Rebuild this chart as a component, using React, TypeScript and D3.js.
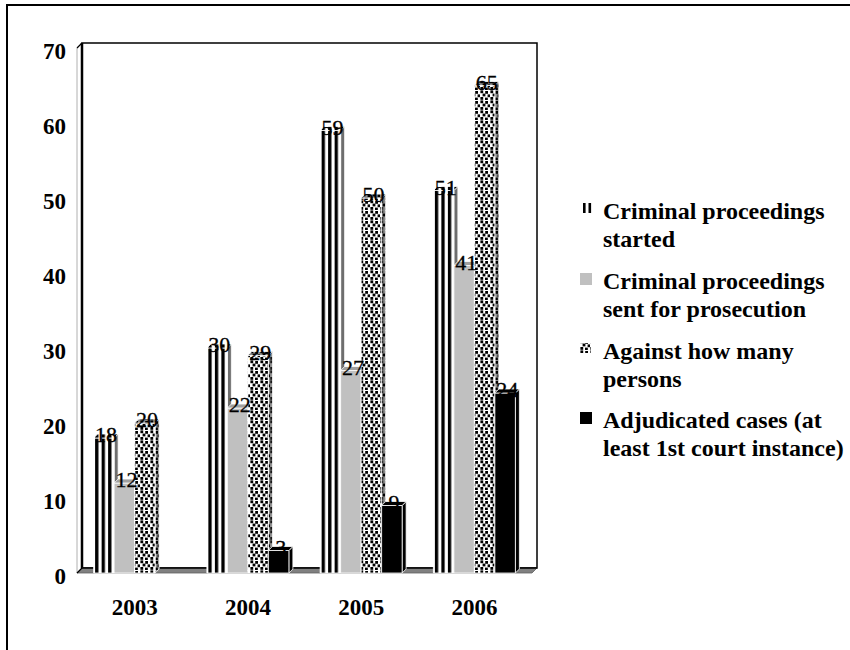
import React from "react";
import * as d3 from "d3";

// Data
const years = ["2003", "2004", "2005", "2006"];
const seriesLabels = [
  ["Criminal proceedings", "started"],
  ["Criminal proceedings", "sent for prosecution"],
  ["Against how many", "persons"],
  ["Adjudicated cases (at", "least 1st court instance)"],
];
const started = [18, 30, 59, 51];
const sentForProsecution = [12, 22, 27, 41];
const againstPersons = [20, 29, 50, 65];
const adjudicated = [0, 3, 9, 24];
const yTicks = [0, 10, 20, 30, 40, 50, 60, 70];

const seriesValues = [started, sentForProsecution, againstPersons, adjudicated];
const seriesKeys = ["stripe", "gray", "dots", "black"];

const W = 850;
const H = 650;
const FONT = "'Liberation Serif', 'Times New Roman', serif";

// Front plane of the 3D plot and depth offsets
const plane = { left: 77, right: 532, base: 573, top: 48 };
const wallDepth = 5;
const barDepth = 4;

// Confetti squares for the dotted fill (tile-relative)
const confetti = [
  [0.4, 0.4],
  [5.2, 1.0],
  [2.6, 3.6],
  [7.6, 4.4],
  [0.4, 7.0],
  [5.0, 7.6],
];

export default function App() {
  const x = d3.scaleBand<string>().domain(years).range([78, 531]).padding(0);
  const inner = d3
    .scaleBand<number>()
    .domain(d3.range(seriesKeys.length))
    .range([0, 82])
    .padding(0);
  const clusterOffset = (x.bandwidth() - 82) / 2;
  const y = d3.scaleLinear().domain([0, 70]).range([plane.base, plane.top]);
  const bw = inner.bandwidth();
  const d = barDepth;

  type Bar = { key: string; si: number; gi: number; x: number; yTop: number; v: number; id: string };
  const bars: Bar[] = [];
  years.forEach((yr, gi) => {
    seriesValues.forEach((vals, si) => {
      const v = vals[gi];
      bars.push({
        key: seriesKeys[si],
        si,
        gi,
        x: (x(yr) as number) + clusterOffset + (inner(si) as number),
        yTop: y(v),
        v,
        id: `b${gi}-${si}`,
      });
    });
  });

  const wd = wallDepth;
  const wall = {
    x0: plane.left + wd,
    x1: plane.right + wd,
    y0: plane.top - wd,
    y1: plane.base - wd,
  };

  const faceStyle = (key: string, id: string) => {
    switch (key) {
      case "stripe":
        return { front: `url(#stripe-${id})`, side: "#6e6e6e", top: `url(#stripe-${id})` };
      case "gray":
        return { front: "#c0c0c0", side: "#8c8c8c", top: "#a0a0a0" };
      case "dots":
        return { front: "url(#dots)", side: "url(#dotsDark)", top: "url(#dotsDark)" };
      default:
        return { front: "#000", side: "#000", top: "#000" };
    }
  };

  const legendBaselines = [219, 289, 359, 428];
  const lineGap = 28;

  const confettiTile = (bg: string) => (
    <>
      <rect width={10} height={10} fill={bg} />
      {confetti.map(([cx, cy], i) => (
        <rect key={i} x={cx} y={cy} width={2.8} height={2.8} fill="#000" />
      ))}
    </>
  );

  return (
    <svg
      width={W}
      height={H}
      style={{ position: "absolute", left: 0, top: 0, background: "#fff" }}
      fontFamily={FONT}
    >
      <defs>
        {bars
          .filter((b) => b.key === "stripe")
          .map((b) => (
            <pattern
              key={b.id}
              id={`stripe-${b.id}`}
              patternUnits="userSpaceOnUse"
              x={b.x + 1.5}
              y={0}
              width={6.5}
              height={10}
            >
              <rect width={6.5} height={10} fill="#fff" />
              <rect width={3.3} height={10} fill="#000" />
            </pattern>
          ))}
        <pattern id="dots" patternUnits="userSpaceOnUse" width={10} height={10}>
          {confettiTile("#fff")}
        </pattern>
        <pattern id="dotsDark" patternUnits="userSpaceOnUse" width={10} height={10}>
          {confettiTile("#8a8a8a")}
        </pattern>
      </defs>

      {/* outer frame */}
      <rect x={7} y={5} width={W} height={H} fill="none" stroke="#000" strokeWidth={2} />

      {/* back wall */}
      <rect
        x={wall.x0}
        y={wall.y0}
        width={wall.x1 - wall.x0}
        height={wall.y1 - wall.y0}
        fill="#fff"
        stroke="#000"
        strokeWidth={1.5}
      />
      {/* side wall */}
      <polygon
        points={`${plane.left},${plane.top} ${wall.x0},${wall.y0} ${wall.x0},${wall.y1} ${plane.left},${plane.base}`}
        fill="#fff"
        stroke="#b0b0b0"
        strokeWidth={1}
      />
      <line x1={wall.x0} y1={wall.y0} x2={wall.x0} y2={wall.y1} stroke="#000" strokeWidth={2.5} />
      <line x1={plane.left} y1={plane.top} x2={wall.x0} y2={wall.y0} stroke="#000" strokeWidth={1.2} />
      {/* floor */}
      <polygon
        points={`${plane.left},${plane.base} ${wall.x0},${wall.y1} ${wall.x1},${wall.y1} ${plane.right},${plane.base}`}
        fill="#808080"
        stroke="#606060"
        strokeWidth={0.8}
      />
      <line x1={wall.x0} y1={wall.y1} x2={wall.x1} y2={wall.y1} stroke="#000" strokeWidth={1.5} />
      <line x1={plane.left} y1={plane.base} x2={wall.x0} y2={wall.y1} stroke="#000" strokeWidth={1.2} />

      {/* bars */}
      {bars
        .filter((b) => b.v > 0)
        .map((b) => {
          const f = faceStyle(b.key, b.id);
          const x0 = b.x;
          const x1 = b.x + bw;
          const yt = b.yTop;
          const yb = plane.base;
          return (
            <g key={b.id} stroke="#fff" strokeWidth={0.8} strokeLinejoin="round">
              <polygon
                points={`${x1},${yt} ${x1 + d},${yt - d} ${x1 + d},${yb - d} ${x1},${yb}`}
                fill={f.side}
              />
              <rect x={x0} y={yt} width={bw} height={yb - yt} fill={f.front} />
              <polygon
                points={`${x0},${yt} ${x0 + d},${yt - d} ${x1 + d},${yt - d} ${x1},${yt}`}
                fill={f.top}
              />
            </g>
          );
        })}

      {/* value labels */}
      {bars
        .filter((b) => b.v > 0)
        .map((b) => (
          <text
            key={`l${b.id}`}
            x={b.x + bw / 2 + 2}
            y={b.yTop + 4}
            textAnchor="middle"
            fontSize={22}
            fill="#000"
            stroke="#000"
            strokeWidth={0.3}
          >
            {b.v}
          </text>
        ))}

      {/* y axis tick labels */}
      {yTicks.map((t) => (
        <text
          key={t}
          x={66}
          y={y(t) + 3}
          textAnchor="end"
          dominantBaseline="central"
          fontSize={23}
          fontWeight="bold"
        >
          {t}
        </text>
      ))}

      {/* category labels */}
      {years.map((yr) => (
        <text
          key={yr}
          x={(x(yr) as number) + x.bandwidth() / 2}
          y={615}
          textAnchor="middle"
          fontSize={23}
          fontWeight="bold"
        >
          {yr}
        </text>
      ))}

      {/* legend */}
      {seriesLabels.map((lines, i) => {
        const base = legendBaselines[i];
        const my = base - 16;
        return (
          <g key={i}>
            {i === 0 && (
              <g>
                <rect x={583} y={my} width={2.6} height={10} fill="#000" />
                <rect x={588.5} y={my} width={2.6} height={10} fill="#000" />
              </g>
            )}
            {i === 1 && <rect x={580} y={my} width={12} height={12} fill="#c0c0c0" />}
            {i === 2 && <rect x={580} y={my} width={11} height={10} fill="url(#dots)" />}
            {i === 3 && <rect x={580} y={my} width={12} height={12} fill="#000" />}
            {lines.map((ln, j) => (
              <text key={j} x={603} y={base + j * lineGap} fontSize={24} fontWeight="bold" fill="#000">
                {ln}
              </text>
            ))}
          </g>
        );
      })}
    </svg>
  );
}
